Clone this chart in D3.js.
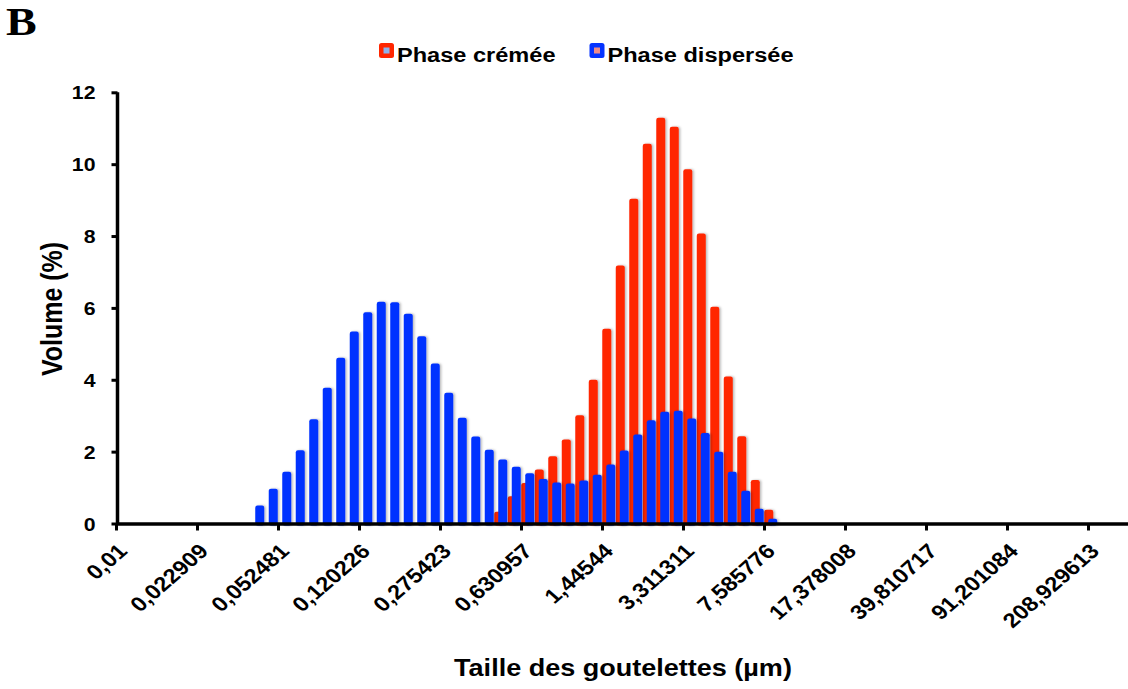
<!DOCTYPE html>
<html>
<head>
<meta charset="utf-8">
<script src="https://cdn.jsdelivr.net/npm/d3@7"></script>
<style>
  html, body { margin: 0; padding: 0; background: #fff; }
  svg { display: block; }
  text { font-family: "Liberation Sans", Arial, Helvetica, sans-serif; font-weight: bold; fill: #000; }
</style>
</head>
<body>
<svg id="chart" width="1128" height="689"></svg>
<script>
// ---- Data ----
const seriesNames = ["Phase crémée", "Phase dispersée"];
const seriesColors = ["#ff2600", "#0433ff"];
// bin index (0 = 0,01 µm, 6 bins per labelled tick)
const binCount = 76;
const tickLabels = ["0,01", "0,022909", "0,052481", "0,120226", "0,275423", "0,630957",
  "1,44544", "3,311311", "7,585776", "17,378008", "39,810717", "91,201084", "208,929613"];
const yTicks = [0, 2, 4, 6, 8, 10, 12];
// Volume (%) per bin, bins 0..48
const cremee = [0,0,0,0,0,0,0,0,0,0,
  0,0,0,0,0,0,0,0,0,0,
  0,0,0,0,0,0,0,0,0.33,0.76,
  1.13,1.50,1.87,2.34,3.01,4.00,5.42,7.18,9.04,10.57,
  11.29,11.04,9.86,8.07,6.03,4.09,2.43,1.21,0.38];
const dispersee = [0,0,0,0,0,0,0,0,0,0,
  0.50,0.97,1.44,2.04,2.90,3.78,4.61,5.34,5.88,6.17,
  6.16,5.84,5.21,4.45,3.64,2.94,2.42,2.05,1.78,1.58,
  1.40,1.24,1.14,1.11,1.20,1.36,1.64,2.03,2.48,2.87,
  3.11,3.14,2.92,2.52,2.00,1.44,0.91,0.41,0.13];

// ---- Layout ----
const SX = 1.15; // horizontal stretch of the reference picture
const left = 116, step = 13.5;
const svg = d3.select("#chart");

const defs = svg.append("defs");
const f = defs.append("filter").attr("id", "sh").attr("x", "-50%").attr("y", "-10%").attr("width", "200%").attr("height", "120%");
f.append("feDropShadow").attr("dx", 1.5).attr("dy", 0).attr("stdDeviation", 0.8)
  .attr("flood-color", "#000").attr("flood-opacity", 0.28);

const xb = d3.scaleLinear().domain([0, binCount]).range([left, left + binCount * step]);
const xBand = d3.scaleBand().domain(d3.range(binCount)).range([left, left + binCount * step]).padding(0);
const y = d3.scaleLinear().domain([0, 12]).range([523.5, 92.3]);

const bw = xBand.bandwidth();
const barW = bw * 0.667;
const offsets = [bw * 0.02, bw * 0.315];

[cremee, dispersee].forEach((vals, s) => {
  const data = vals.map((v, i) => ({ i, v })).filter(d => d.v > 0);
  svg.append("g").attr("filter", "url(#sh)")
    .selectAll("rect").data(data).join("rect")
    .attr("x", d => xBand(d.i) + offsets[s])
    .attr("width", barW)
    .attr("y", d => y(d.v))
    .attr("height", d => y(0) - y(d.v) + 2)
    .attr("rx", 2.2)
    .attr("fill", seriesColors[s]);
});

// ---- Axes ----
const yAxis = svg.append("g").attr("transform", "translate(117.5,0)")
  .call(d3.axisLeft(y).tickValues(yTicks).tickSize(6).tickFormat(d3.format("d")));
yAxis.select(".domain").attr("d", `M0,${y(12)}V${y(0)}`).attr("stroke", "#000").attr("stroke-width", 3.5);
yAxis.selectAll(".tick line").attr("stroke", "#000").attr("stroke-width", 3);
yAxis.selectAll(".tick text").remove();
yAxis.selectAll(".tick").append("text")
  .attr("transform", `translate(-22,0) scale(${SX},1)`)
  .attr("text-anchor", "end").attr("dy", "0.36em")
  .style("font-size", "18.5px")
  .text(d => d);

const xAxis = svg.append("g").attr("transform", `translate(0,${y(0)})`)
  .call(d3.axisBottom(xb).tickValues(d3.range(0, tickLabels.length).map(k => k * 6)).tickSize(7).tickSizeOuter(0));
xAxis.select(".domain").attr("stroke", "#000").attr("stroke-width", 3.5);
xAxis.selectAll(".tick line").attr("stroke", "#000").attr("stroke-width", 3);
xAxis.selectAll(".tick text").remove();
xAxis.selectAll(".tick").append("text")
  .attr("transform", `translate(12,29) scale(${SX},1) rotate(-45)`)
  .attr("text-anchor", "end")
  .style("font-size", "20.5px")
  .text((d, i) => tickLabels[i]);

// ---- Titles ----
svg.append("text")
  .attr("transform", `translate(623,676) scale(${SX},1)`)
  .attr("text-anchor", "middle").style("font-size", "23.5px")
  .text("Taille des goutelettes (µm)");

svg.append("text")
  .attr("transform", `translate(62,309) scale(${SX},1) rotate(-90)`)
  .attr("text-anchor", "middle").style("font-size", "25px")
  .text("Volume (%)");

svg.append("text")
  .attr("transform", `translate(6,34.5) scale(${SX},1)`)
  .style("font-family", "'Liberation Serif', 'Times New Roman', serif")
  .style("font-size", "40px")
  .text("B");

// ---- Legend ----
const legendX = [379, 589.5];
const innerColors = ["#8fb2ea", "#ec8b8b"];
seriesNames.forEach((name, s) => {
  const g = svg.append("g").attr("transform", `translate(${legendX[s]},43)`);
  g.append("rect").attr("width", 15).attr("height", 15).attr("rx", 2.5).attr("fill", seriesColors[s]);
  g.append("rect").attr("x", 4.5).attr("y", 4.5).attr("width", 6).attr("height", 6).attr("fill", innerColors[s]);
  g.append("text").attr("transform", `translate(18,18.5) scale(${SX},1)`)
    .style("font-size", "20.5px").text(name);
});
</script>
</body>
</html>
